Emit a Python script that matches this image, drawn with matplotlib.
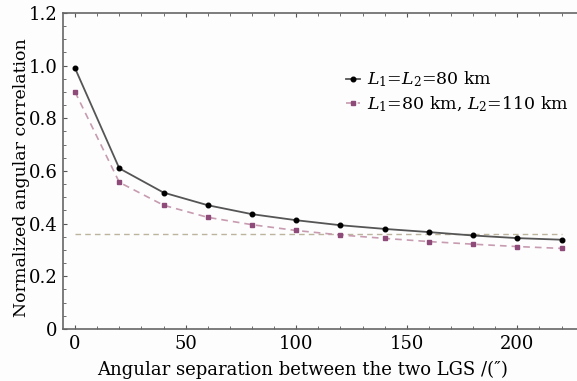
import matplotlib
matplotlib.use("Agg")
import matplotlib.pyplot as plt
from matplotlib.ticker import MultipleLocator

plt.rcParams['font.family'] = ['DejaVu Serif']
plt.rcParams['mathtext.fontset'] = 'dejavuserif'

sep = [0, 20, 40, 60, 80, 100, 120, 140, 160, 180, 200, 220]
corr_same = [0.99, 0.61, 0.518, 0.470, 0.436, 0.413, 0.394, 0.380, 0.368, 0.355, 0.345, 0.339]
corr_diff = [0.90, 0.557, 0.470, 0.424, 0.396, 0.374, 0.357, 0.344, 0.332, 0.322, 0.313, 0.306]
threshold = 0.362
label_same = r'$L_1$=$L_2$=80 km'
label_diff = r'$L_1$=80 km, $L_2$=110 km'

fig = plt.figure(figsize=(5.77, 3.81), dpi=100)
ax = fig.add_axes([0.109, 0.1365, 0.891, 0.8295])

ax.plot([sep[0], sep[-1]], [threshold, threshold], ls=(0, (4, 3)), color='#bdb49e', lw=1.0)
ax.plot(sep, corr_same, '-', color='#555555', lw=1.3, marker='o', ms=3.3,
        mfc='black', mec='black', label=label_same)
ax.plot(sep, corr_diff, ls=(0, (4, 3)), color='#c79bb0', lw=1.2, marker='s', ms=3.3,
        mfc='#8e4a78', mec='#8e4a78', label=label_diff)

ax.set_xlim(-5.5, 227)
ax.set_ylim(0, 1.2)
ax.xaxis.set_major_locator(MultipleLocator(50))
ax.xaxis.set_minor_locator(MultipleLocator(10))
ax.yaxis.set_major_locator(MultipleLocator(0.2))
ax.yaxis.set_minor_locator(MultipleLocator(0.05))
ax.set_yticks([0, 0.2, 0.4, 0.6, 0.8, 1.0, 1.2])
ax.set_yticklabels(['0', '0.2', '0.4', '0.6', '0.8', '1.0', '1.2'])

for s in ['left', 'bottom', 'top']:
    ax.spines[s].set_color('#666666')
    ax.spines[s].set_linewidth(1.2)
ax.spines['right'].set_visible(False)
ax.tick_params(which='both', direction='in', top=True, right=False, color='#555555')
ax.tick_params(which='major', length=3, labelsize=13, pad=4)
ax.tick_params(which='minor', length=2)
ax.tick_params(axis='x', which='both', labeltop=False)

ax.set_xlabel("Angular separation between the two LGS /(″)", fontsize=13)
ax.xaxis.set_label_coords(0.467, -0.1)
ax.set_ylabel("Normalized angular correlation", fontsize=12.5)
ax.yaxis.set_label_coords(-0.064, 0.48)

ax.legend(loc='upper right', bbox_to_anchor=(1.015, 0.87), frameon=False, fontsize=12.5,
          handlelength=0.8, handletextpad=0.4, labelspacing=0.3)

fig.patch.set_facecolor('#fdfdfd')
ax.set_facecolor('#fdfdfd')
fig.savefig('out.png', dpi=100, facecolor=fig.get_facecolor())
